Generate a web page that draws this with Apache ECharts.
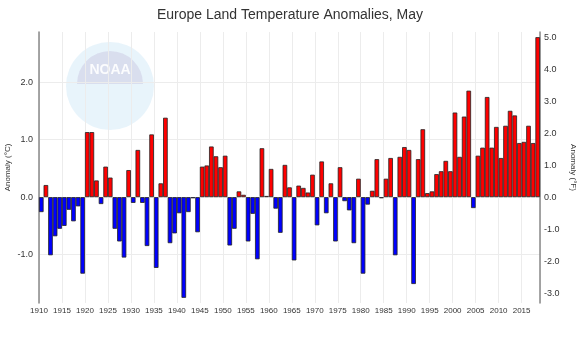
<!DOCTYPE html>
<html>
<head>
<meta charset="utf-8">
<script src="https://cdn.jsdelivr.net/npm/echarts@6/dist/echarts.min.js"></script>
<style>html,body{margin:0;padding:0;background:#fff}#c{width:580px;height:355px}</style>
</head>
<body>
<div id="c"></div>
<script>
const title = 'Europe Land Temperature Anomalies, May';
const firstYear = 1910;
const anomaliesC = [
  -0.26, 0.21, -1.01, -0.68, -0.55, -0.50, -0.22, -0.42, -0.16, -1.33,
  1.13, 1.13, 0.29, -0.12, 0.53, 0.34, -0.55, -0.77, -1.05, 0.47,
  -0.10, 0.82, -0.10, -0.85, 1.09, -1.23, 0.24, 1.38, -0.80, -0.63,
  -0.28, -1.75, -0.26, -0.02, -0.61, 0.53, 0.55, 0.88, 0.71, 0.52,
  0.72, -0.84, -0.55, 0.10, 0.04, -0.77, -0.29, -1.08, 0.85, 0.02,
  0.49, -0.20, -0.62, 0.56, 0.17, -1.10, 0.20, 0.16, 0.08, 0.39,
  -0.49, 0.62, -0.28, 0.24, -0.77, 0.52, -0.07, -0.23, -0.80, 0.32,
  -1.33, -0.13, 0.11, 0.66, -0.02, 0.32, 0.68, -1.01, 0.70, 0.87,
  0.82, -1.51, 0.66, 1.18, 0.07, 0.10, 0.40, 0.45, 0.63, 0.45,
  1.47, 0.70, 1.40, 1.85, -0.19, 0.72, 0.86, 1.74, 0.86, 1.22,
  0.68, 1.24, 1.50, 1.42, 0.94, 0.96, 1.24, 0.94, 2.78
];
const years = anomaliesC.map((_, i) => firstYear + i);
const leftTicks = [-1, 0, 1, 2];
const rightTicks = [-3, -2, -1, 0, 1, 2, 3, 4, 5];
const cMin = -1.84, cMax = 2.87;

const chart = echarts.init(document.getElementById('c'), null, {renderer: 'canvas'});
const font = 'Liberation Sans, Arial, sans-serif';
chart.setOption({
  animation: false,
  title: {
    text: title, left: 'center', top: 3,
    textStyle: {fontSize: 14, fontWeight: 'normal', color: '#333', fontFamily: font}
  },
  graphic: [
    {type: 'circle', shape: {cx: 110, cy: 86, r: 44}, style: {fill: '#d9ecf9', opacity: 0.6}, z: -10, silent: true},
    {type: 'sector', shape: {cx: 110, cy: 84, r0: 0, r: 33, startAngle: Math.PI, endAngle: 2 * Math.PI}, style: {fill: '#cfcfe6', opacity: 0.6}, z: -9, silent: true},
    {type: 'text', x: 110, y: 70, style: {text: 'NOAA', fill: '#fff', font: 'bold 14px ' + font, align: 'center', verticalAlign: 'middle', opacity: 0.9}, z: -8, silent: true}
  ],
  grid: {left: 39, right: 40, top: 32, bottom: 52, containLabel: false, outerBoundsMode: 'none'},
  xAxis: {
    type: 'value', min: firstYear, max: years[years.length - 1] + 1, interval: 5,
    axisLine: {show: false}, axisTick: {show: false},
    axisLabel: {
      fontSize: 8, color: '#333', fontFamily: font, margin: 4, showMaxLabel: false,
      formatter: v => (v % 5 === 0 && v < 2019) ? String(v) : ''
    },
    splitLine: {show: true, lineStyle: {color: '#ececec', width: 1}}
  },
  yAxis: [
    {
      type: 'value', min: cMin, max: cMax, position: 'left',
      name: 'Anomaly (°C)', nameLocation: 'middle', nameGap: 27, nameMoveOverlap: false,
      nameTextStyle: {fontSize: 8, color: '#333', fontFamily: font},
      axisLine: {show: true, onZero: false, lineStyle: {color: '#888', width: 1.5}},
      axisTick: {show: false, customValues: leftTicks},
      axisLabel: {customValues: leftTicks, fontSize: 9, color: '#333', fontFamily: font, margin: 6,
        formatter: v => v.toFixed(1)},
      splitLine: {show: true, lineStyle: {color: '#ececec', width: 1}}
    },
    {
      type: 'value', min: cMin * 1.8, max: cMax * 1.8, position: 'right',
      name: 'Anomaly (°F)', nameLocation: 'middle', nameGap: 29, nameRotate: -90, nameMoveOverlap: false,
      nameTextStyle: {fontSize: 8, color: '#333', fontFamily: font},
      axisLine: {show: true, onZero: false, lineStyle: {color: '#888', width: 1.5}},
      axisTick: {show: false, customValues: rightTicks},
      axisLabel: {customValues: rightTicks, fontSize: 9, color: '#333', fontFamily: font, margin: 4,
        formatter: v => v.toFixed(1)},
      splitLine: {show: false}
    }
  ],
  series: [{
    type: 'bar', yAxisIndex: 0, barWidth: '100%',
    data: years.map((y, i) => [y + 0.5, anomaliesC[i]]),
    itemStyle: {
      color: p => p.value[1] >= 0 ? '#ff0000' : '#0000ff',
      borderColor: '#222', borderWidth: 0.8
    }
  }]
});
</script>
</body>
</html>
